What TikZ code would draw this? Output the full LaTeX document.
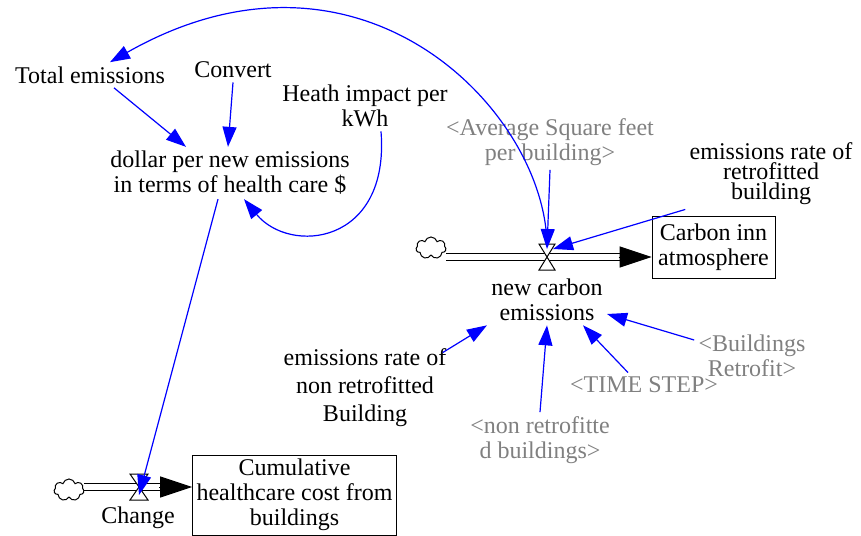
\documentclass[tikz,border=0pt]{standalone}
\usepackage{fontspec}
\setmainfont{Liberation Serif}
\usepackage{tikz}
\usetikzlibrary{arrows.meta,positioning,shapes.symbols}

\begin{document}
\begin{tikzpicture}[
  x=0.5pt,y=-0.5pt,
  aux/.style={align=center,inner sep=2pt,font=\fontsize{12}{12.5}\selectfont},
  shadow/.style={aux,text=gray},
  stock/.style={draw,aux,minimum width=61.5pt,minimum height=31pt},
  link/.style={draw=blue,line width=0.6pt,-{Triangle[length=10pt,width=7pt]}},
  pipe/.style={double,double distance=3pt,line width=0.5pt},
  flowtip/.style={-{Triangle[length=16pt,width=10.5pt]},line width=0.5pt},
  valve/.style={draw,line width=0.5pt,fill=white},
  cloudsym/.style={cloud,cloud puffs=7,cloud ignores aspect,draw,line width=0.5pt,minimum width=15pt,minimum height=11pt,inner sep=0pt}
]
\useasboundingbox (0,0) rectangle (861,535);

% stocks and flows
\node[cloudsym] (cloudA) at (431,248) {};
\node[stock] (carbon) at (713.5,247) {Carbon inn\\atmosphere};
\coordinate (vA) at (547,257);
\draw[pipe,shorten >=15pt] (cloudA.east |- vA) -- (carbon.west |- vA);
\draw[flowtip] ([xshift=-16.5pt]carbon.west |- vA) -- (carbon.west |- vA);
\draw[valve] (vA) ++(-8,-13) -- ++(16,0) -- ++(-16,26) -- ++(16,0) -- cycle;
\node[aux] (newce) at (547,300) {new carbon\\emissions};

\node[cloudsym] (cloudB) at (69,490) {};
\node[stock,minimum width=99pt,minimum height=35pt] (cumcost) at (294.5,495) {Cumulative\\healthcare cost from\\buildings};
\coordinate (vB) at (139,487);
\draw[pipe,shorten >=15pt] (cloudB.east |- vB) -- (cumcost.west |- vB);
\draw[flowtip] ([xshift=-16.5pt]cumcost.west |- vB) -- (cumcost.west |- vB);
\draw[valve] (vB) ++(-9,-13) -- ++(18,0) -- ++(-18,26) -- ++(18,0) -- cycle;
\node[aux] (change) at (138,518) {Change};

% auxiliaries
\node[aux] (total) at (90,75) {Total emissions};
\node[aux] (convert) at (233,70) {Convert};
\node[aux] (heath) at (365,106) {Heath impact per\\kWh};
\node[aux] (dollar) at (230,173) {dollar per new emissions\\in terms of health care \$};
\node[shadow] (avgsq) at (550,142) {<Average Square feet\\per building>};
\node[aux,font=\fontsize{12}{10}\selectfont] (erretro) at (771,174) {emissions rate of\\retrofitted\\building};
\node[aux,font=\fontsize{12}{14}\selectfont] (ernon) at (365,388) {emissions rate of\\non retrofitted\\Building};
\node[shadow] (nonretro) at (540,440) {<non retrofitte\\d buildings>};
\node[shadow] (timestep) at (644,385) {<TIME STEP>};
\node[shadow] (bldretro) at (752,356) {<Buildings\\Retrofit>};

% links
\draw[link] ([yshift=6pt]vA) .. controls (545,110) and (360,-80) .. ([xshift=10pt]total.north);
\draw[link] ([xshift=12pt]total.south) -- ([xshift=-22pt]dollar.north);
\draw[link] (convert.south) -- ([xshift=-1pt]dollar.north);
\draw[link] ([xshift=8pt]heath.south) .. controls (390,245) and (290,255) .. ([xshift=7pt]dollar.south);
\draw[link] ([xshift=-6pt]dollar.south) -- ([yshift=-4pt]vB);
\draw[link] (avgsq.south) -- ([yshift=4pt]vA);
\draw[link] (erretro.south west) -- ([xshift=3pt,yshift=4pt]vA);
\draw[link] ([xshift=-4pt,yshift=-4pt]ernon.north east) -- (newce.south west);
\draw[link] (nonretro.north) -- (newce.south);
\draw[link] ([xshift=-8pt]timestep.north) -- ([xshift=18pt]newce.south);
\draw[link] ([yshift=8pt]bldretro.west) -- ([yshift=-7pt]newce.east);
\end{tikzpicture}
\end{document}
